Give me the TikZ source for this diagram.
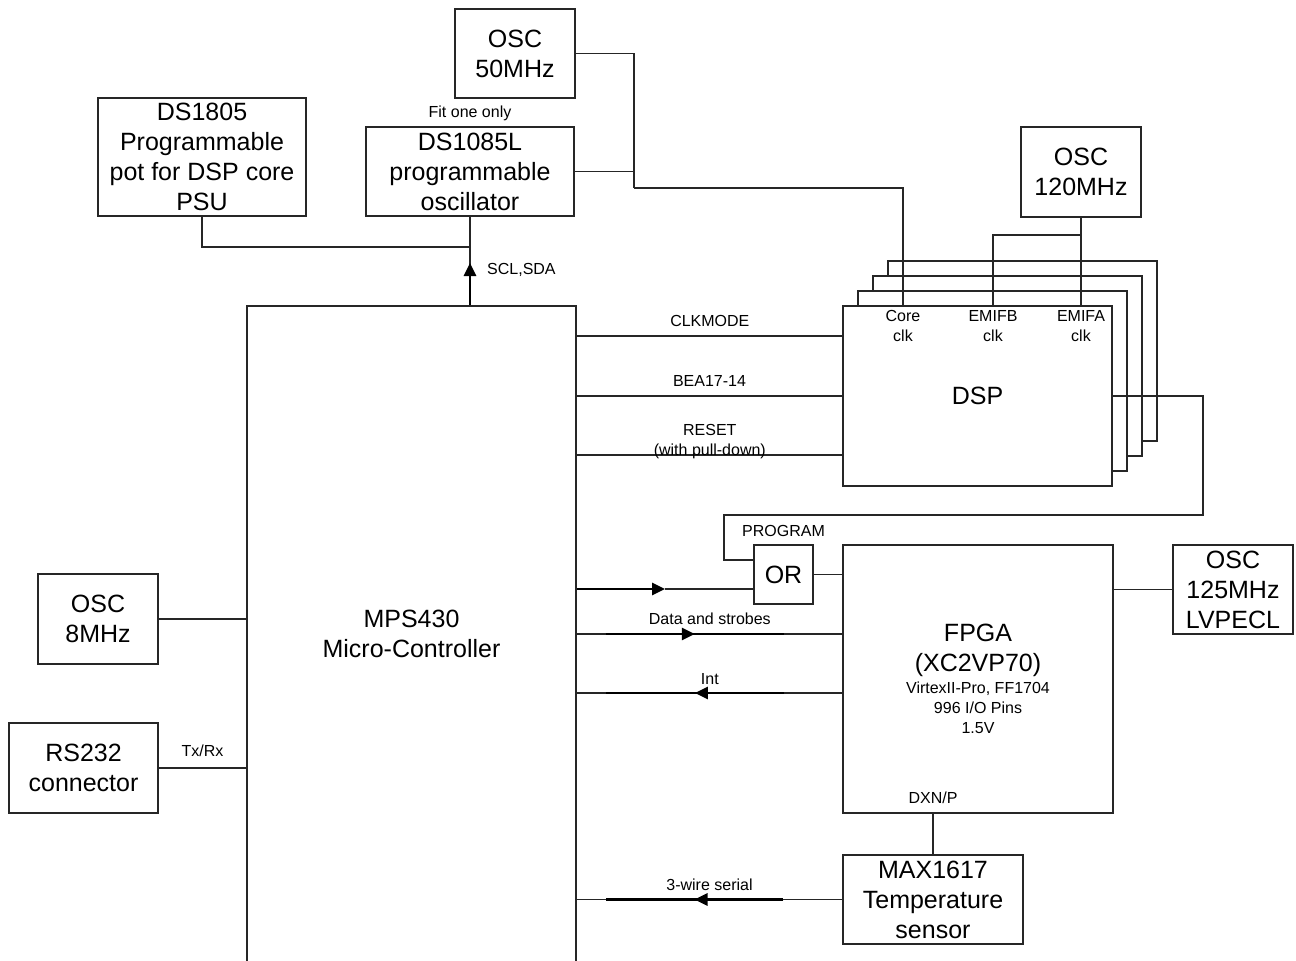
\documentclass[tikz,border=0pt]{standalone}
\usepackage{fontspec}
\setmainfont{Liberation Sans}
\usetikzlibrary{arrows.meta}
\usetikzlibrary{decorations.markings}
\newcommand{\blockfont}{\fontsize{25}{30}\selectfont}
\newcommand{\sigfont}{\fontsize{16}{20}\selectfont}

\begin{document}
\begin{tikzpicture}[x=1pt, y=-1pt,
      box/.style={draw=black!85, line width=1.3pt, fill=white, inner sep=1pt, align=center, font=\blockfont},
      wire/.style={draw=black!85, line width=1.3pt},
      bus/.style={draw=black, line width=2.6pt},
      sig/.style={font=\sigfont, inner sep=0pt, anchor=base},
      tip/.style={-{Triangle[length=13pt,width=12pt]}},
      midtip/.style={postaction={decorate}, decoration={markings,
          mark=at position 0.5 with {\arrow{Triangle[length=13pt,width=12pt]}}}}
      ]
      \clip (0,0) rectangle (1296,961);

      % blocks
      \node[box, minimum width=329pt, minimum height=656pt] (mps) at (411.5,634) {MPS430\\Micro-Controller};
      \node[box, minimum width=120pt, minimum height=89pt] (osc50) at (515,53.5) {OSC\\50MHz};
      \node[box, minimum width=208pt, minimum height=118pt] (ds1805) at (202,157) {DS1805\\Programmable\\pot for DSP core\\PSU};
      \node[box, minimum width=208pt, minimum height=89pt] (ds1085) at (470,171.5) {DS1085L\\programmable\\oscillator};
      \node[box, minimum width=120pt, minimum height=90pt] (osc120) at (1081,172) {OSC\\120MHz};
      \node[box, minimum width=120pt, minimum height=90pt] (osc8) at (98,619) {OSC\\8MHz};
      \node[box, minimum width=149pt, minimum height=90pt] (rs232) at (83.5,768) {RS232\\connector};
      \node[box, minimum width=59pt, minimum height=59pt] (or) at (783.5,574.5) {OR};
      \node[box, minimum width=270pt, minimum height=268pt] (fpga) at (978,679)
        {FPGA\\(XC2VP70)\\[-8pt]\sigfont VirtexII-Pro, FF1704\\[-10pt]\sigfont 996 I/O Pins\\[-10pt]\sigfont 1.5V};
      \node[box, minimum width=120pt, minimum height=89pt] (osc125) at (1233,589.5) {OSC\\125MHz\\LVPECL};
      \node[box, minimum width=180pt, minimum height=89pt] (max) at (933,899.5) {MAX1617\\Temperature\\sensor};

      % DSP stack
      \foreach \k in {3,2,1}
        \node[box, minimum width=269pt, minimum height=180pt] (dsp\k) at (977.5+15*\k,396-15*\k) {};
      \node[box, minimum width=269pt, minimum height=180pt] (dsp) at (977.5,396) {DSP};
      \coordinate (coreclk) at (903,306);
      \coordinate (emifb) at (993,306);
      \coordinate (emifa) at (1081,306);
      \node[sig, anchor=north, align=center] at ([yshift=-4pt]coreclk) {Core\\clk};
      \node[sig, anchor=north, align=center] at ([yshift=-4pt]emifb) {EMIFB\\clk};
      \node[sig, anchor=north, align=center] at ([yshift=-4pt]emifa) {EMIFA\\clk};

      % clocks
      \coordinate (clkjoin) at (634,188);
      \draw[wire] (osc50.east) -| (clkjoin);
      \draw[wire] (ds1085.east) -| (clkjoin);
      \draw[wire] (clkjoin) -| (coreclk);
      \coordinate (oscsplit) at (1081,235);
      \draw[wire] (osc120.south) -- (emifa);
      \draw[wire] (oscsplit) -| (emifb);

      % I2C
      \coordinate (i2c) at (470,247);
      \coordinate (scltip) at (470,263);
      \node[sig] at (470,117) {Fit one only};
      \draw[wire] (ds1805.south) |- (i2c);
      \draw[wire] (ds1085.south) -- (ds1085.south |- mps.north);
      \draw[bus, tip] (ds1085.south |- mps.north) -- (scltip);
      \node[sig, anchor=base west] at (487,274) {SCL,SDA};

      % DSP control
      \coordinate (clkmode) at (843,336);
      \coordinate (reset) at (843,455);
      \draw[wire] (clkmode -| mps.east) -- (clkmode) node[sig, midway, yshift=10pt] {CLKMODE};
      \draw[wire] (dsp.west -| mps.east) -- (dsp.west) node[sig, midway, yshift=10pt] {BEA17-14};
      \draw[wire] (reset -| mps.east) -- (reset)
        node[sig, midway, anchor=north, align=center, yshift=31pt] {RESET\\(with pull-down)};

      % program
      \coordinate (progA) at (1203,515);
      \coordinate (progB) at (724,515);
      \draw[wire] (dsp.east) -| (progA) -- (progB) |- ([yshift=14.5pt]or.west);
      \node[sig] at (783.5,536) {PROGRAM};
      \coordinate (ortip) at (665,589);
      \draw[bus, tip] (ortip -| mps.east) -- (ortip);
      \draw[wire] (ortip) -- (ortip -| or.west);
      \draw[wire] (or.east) -- (or.east -| fpga.west);
      \draw[wire] (osc125.west -| fpga.east) -- (osc125.west);

      % FPGA link
      \coordinate (data) at (843,634);
      \coordinate (int) at (843,693);
      \draw[wire] (data -| mps.east) -- (data) node[sig, midway, yshift=10pt] {Data and strobes};
      \draw[bus, midtip] ([xshift=29pt]data -| mps.east) -- ([xshift=-59pt]data);
      \draw[wire] (int) -- (int -| mps.east) node[sig, midway, yshift=9pt] {Int};
      \draw[bus, midtip] ([xshift=-59pt]int) -- ([xshift=29pt]int -| mps.east);

      % temperature
      \draw[wire] (fpga.south -| max.north) -- (max.north);
      \node[sig] at ([yshift=10pt]fpga.south -| max.north) {DXN/P};
      \draw[wire] (max.west) -- (max.west -| mps.east) node[sig, midway, yshift=9pt] {3-wire serial};
      \draw[bus, midtip] ([xshift=-59pt]max.west) -- ([xshift=29pt]max.west -| mps.east);

      % left side
      \draw[wire] (osc8.east) -- (osc8.east -| mps.west);
      \draw[wire] (rs232.east) -- (rs232.east -| mps.west) node[sig, midway, yshift=12pt] {Tx/Rx};
\end{tikzpicture}
\end{document}
